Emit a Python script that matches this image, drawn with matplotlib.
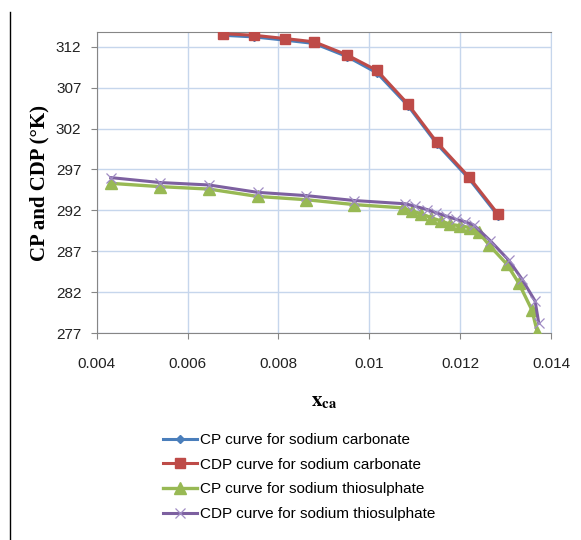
import matplotlib
matplotlib.use('Agg')
import matplotlib.pyplot as plt
from matplotlib.lines import Line2D

# sodium carbonate
x_carb = [0.00678, 0.00747, 0.00815, 0.00879, 0.00951, 0.01017,
          0.01085, 0.01149, 0.01219, 0.01284]
cp_carb = [313.4, 313.2, 312.8, 312.4, 310.8, 308.8,
           304.8, 300.1, 295.9, 291.3]
cdp_carb = [313.6, 313.4, 313.0, 312.6, 311.0, 309.1,
            305.0, 300.3, 296.1, 291.5]

# sodium thiosulphate
x_thio_cp = [0.00431, 0.00539, 0.00647, 0.00754, 0.00861, 0.00967,
             0.01074, 0.01094, 0.01114, 0.01136, 0.01158, 0.01178,
             0.01200, 0.01222, 0.01241, 0.01263, 0.01303, 0.01329,
             0.01358, 0.01370]
cp_thio = [295.3, 294.9, 294.6, 293.7, 293.3, 292.7,
           292.3, 291.9, 291.6, 291.1, 290.7, 290.3,
           290.1, 289.9, 289.3, 287.8, 285.4, 283.1,
           279.8, 277.1]
x_thio_cdp = [0.00431, 0.00539, 0.00647, 0.00754, 0.00861, 0.00967,
              0.01079, 0.01101, 0.01127, 0.01147, 0.01169, 0.01191,
              0.01211, 0.01230, 0.01266, 0.01307, 0.01336, 0.01365,
              0.01373]
cdp_thio = [296.0, 295.4, 295.1, 294.2, 293.8, 293.2,
            292.8, 292.5, 292.1, 291.7, 291.3, 290.9,
            290.6, 290.2, 288.3, 285.9, 283.6, 280.9,
            278.2]

y_ticks = [277, 282, 287, 292, 297, 302, 307, 312]
x_ticks = [0.004, 0.006, 0.008, 0.01, 0.012, 0.014]
x_ticklabels = ['0.004', '0.006', '0.008', '0.01', '0.012', '0.014']

labels = ['CP curve for sodium carbonate', 'CDP curve for sodium carbonate',
          'CP curve for sodium thiosulphate', 'CDP curve for sodium thiosulphate']

plt.rcParams['font.family'] = 'Liberation Sans'
plt.rcParams['mathtext.fontset'] = 'stix'

fig = plt.figure(figsize=(5.81, 5.4), dpi=100)
ax = fig.add_axes([0.1664, 0.3833, 0.782, 0.5574])

grid_c = '#c6d6ec'
ax.plot(x_carb, cp_carb, color='#4a7ebb', lw=2.2, marker='D', ms=4.5,
        label=labels[0], zorder=3)
ax.plot(x_carb, cdp_carb, color='#be4b48', lw=2.2, marker='s', ms=7,
        label=labels[1], zorder=4)
ax.plot(x_thio_cp, cp_thio, color='#98b954', lw=2.4, marker='^', ms=8,
        label=labels[2], zorder=3)
ax.plot(x_thio_cdp, cdp_thio, color='#7d60a0', lw=2.2, marker='x', ms=7,
        mec='#a08cc4', mew=0.9, label=labels[3], zorder=4)

ax.set_xlim(0.004, 0.014)
ax.set_ylim(277, 313.8)
ax.set_xticks(x_ticks)
ax.set_xticklabels(x_ticklabels)
ax.set_yticks(y_ticks)
ax.grid(True, color=grid_c, lw=1)
ax.set_axisbelow(True)

for s in ['left', 'bottom', 'top']:
    ax.spines[s].set_color('#868686')
ax.spines['right'].set_color(grid_c)
ax.tick_params(axis='both', colors='#868686', labelcolor='#222222',
               labelsize=11, length=4, direction='out')
ax.tick_params(axis='y', pad=7)
ax.tick_params(axis='x', pad=13)

ax.set_ylabel('CP and CDP (\u00b0K)', family='Liberation Serif',
              fontweight='bold', fontsize=15)
ax.yaxis.set_label_coords(-0.104, 0.5)
ax.set_xlabel(r'$\mathbf{x}_{\mathbf{ca}}$', fontsize=15)
ax.xaxis.set_label_coords(0.5, -0.195)

fig.legend(loc='upper left', bbox_to_anchor=(0.281, 0.198), frameon=False,
           fontsize=11, handlelength=2.2, handletextpad=0.2,
           labelspacing=0.7, borderaxespad=0, borderpad=0)

fig.add_artist(Line2D([10 / 581, 10 / 581], [0, 1 - 12 / 540],
                      color='black', lw=1))

fig.savefig('out.png', dpi=100)
